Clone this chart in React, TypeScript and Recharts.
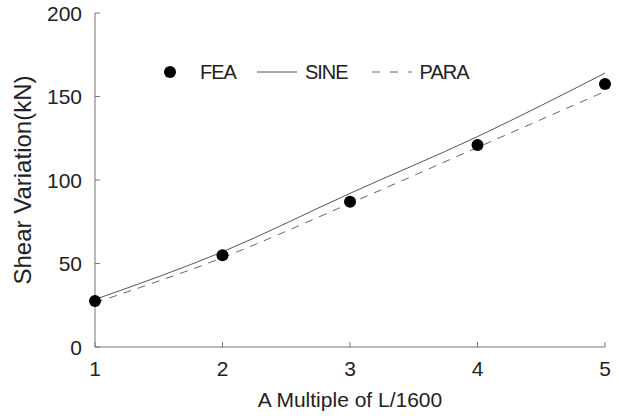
import { Line, LineChart, XAxis, YAxis } from "recharts";

const multiples = [1, 2, 3, 4, 5];
const fea = [27.5, 55, 87, 121, 157.5];
const sine = [28.5, 57, 92, 126, 164];
const para = [26.5, 53.5, 86, 119.5, 153];
const xTicks = [1, 2, 3, 4, 5];
const yTicks = [0, 50, 100, 150, 200];
const seriesNames = ["FEA", "SINE", "PARA"];

const data = multiples.map((m, i) => ({
	m,
	fea: fea[i],
	sine: sine[i],
	para: para[i],
}));

const FONT = '"Liberation Sans", Arial, sans-serif';
const TEXT = "#222";

function ChartLegend() {
	const label = {
		fontFamily: FONT,
		fontSize: 20,
		letterSpacing: -1,
		color: TEXT,
		lineHeight: "24px",
	};
	return (
		<div
			style={{
				position: "absolute",
				left: 163,
				top: 60,
				display: "flex",
				alignItems: "center",
				height: 24,
			}}
		>
			<svg width={14} height={14} style={{ marginRight: 23 }}>
				<circle cx={7} cy={7} r={6} fill="#000" />
			</svg>
			<span style={{ ...label, marginRight: 21 }}>{seriesNames[0]}</span>
			<svg width={40} height={4} style={{ marginRight: 8 }}>
				<line x1={0} y1={2} x2={40} y2={2} stroke="#555" strokeWidth={1} />
			</svg>
			<span style={{ ...label, marginRight: 22 }}>{seriesNames[1]}</span>
			<svg width={42} height={4} style={{ marginRight: 8 }}>
				<line
					x1={2}
					y1={2}
					x2={42}
					y2={2}
					stroke="#666"
					strokeWidth={1}
					strokeDasharray="8 10"
				/>
			</svg>
			<span style={label}>{seriesNames[2]}</span>
		</div>
	);
}

function XTick({ x, y, payload }: any) {
	return (
		<text
			x={x}
			y={y}
			dy="0.71em"
			textAnchor="middle"
			fontFamily={FONT}
			fontSize={21}
			fill={TEXT}
		>
			{payload.value}
		</text>
	);
}

function YTick({ x, y, payload }: any) {
	return (
		<text
			x={x}
			y={y}
			dy="0.36em"
			textAnchor="end"
			fontFamily={FONT}
			fontSize={21}
			fill={TEXT}
		>
			{payload.value}
		</text>
	);
}

export default function App() {
	return (
		<div style={{ position: "absolute", left: 0, top: 0, background: "#fff" }}>
			<LineChart
				width={619}
				height={416}
				data={data}
				margin={{ top: 13, right: 14, left: 0, bottom: 0 }}
			>
				<XAxis
					dataKey="m"
					type="number"
					domain={[1, 5]}
					ticks={xTicks}
					height={69}
					stroke="#777"
					tickSize={-5}
					tickMargin={19}
					tick={<XTick />}
					label={{
						content: ({ viewBox }: any) => (
							<text
								x={viewBox.x + viewBox.width / 2}
								y={viewBox.y + 60}
								textAnchor="middle"
								fontFamily={FONT}
								fontSize={21}
								fill={TEXT}
							>
								A Multiple of L/1600
							</text>
						),
					}}
				/>
				<YAxis
					type="number"
					domain={[0, 200]}
					ticks={yTicks}
					width={95}
					stroke="#777"
					tickSize={-5}
					tickMargin={18}
					tick={<YTick />}
					label={{
						content: ({ viewBox }: any) => {
							const cy = viewBox.y + viewBox.height / 2;
							return (
								<text
									x={31}
									y={cy}
									transform={`rotate(-90, 31, ${cy})`}
									textAnchor="middle"
									fontFamily={FONT}
									fontSize={24}
									fill={TEXT}
								>
									Shear Variation(kN)
								</text>
							);
						},
					}}
				/>
				<Line
					dataKey="fea"
					name={seriesNames[0]}
					stroke="none"
					dot={{ r: 6, fill: "#000", stroke: "none" }}
					activeDot={false}
					isAnimationActive={false}
				/>
				<Line
					type="monotone"
					dataKey="sine"
					name={seriesNames[1]}
					stroke="#555"
					strokeWidth={1}
					dot={false}
					isAnimationActive={false}
				/>
				<Line
					type="monotone"
					dataKey="para"
					name={seriesNames[2]}
					stroke="#666"
					strokeWidth={1}
					strokeDasharray="8 7"
					dot={false}
					isAnimationActive={false}
				/>
			</LineChart>
			<ChartLegend />
		</div>
	);
}
